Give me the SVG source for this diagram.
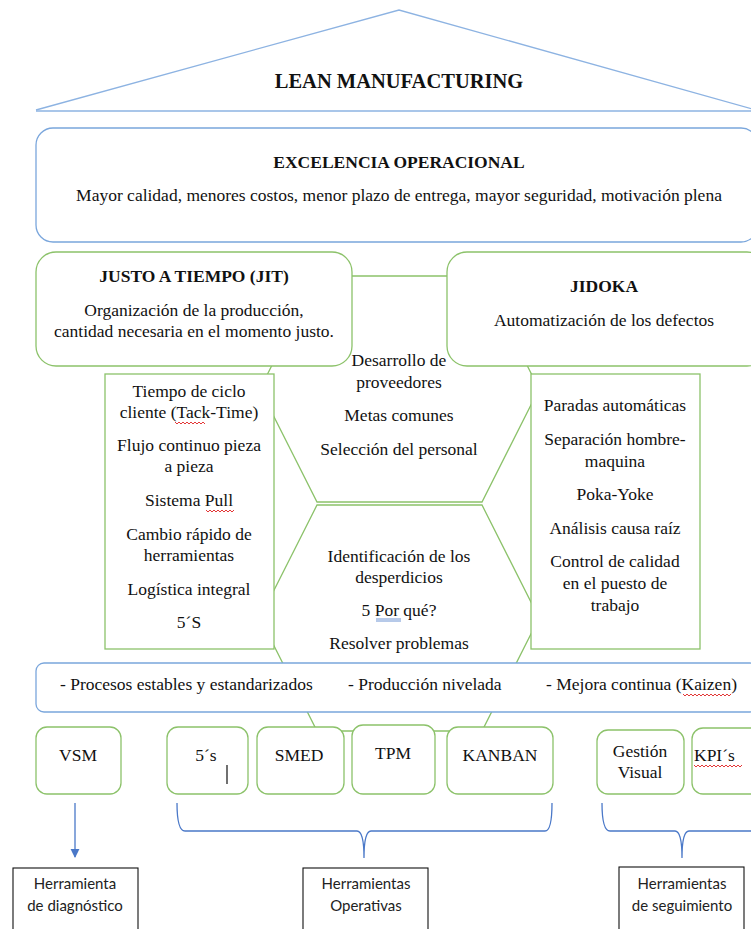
<svg xmlns="http://www.w3.org/2000/svg" width="751" height="929" viewBox="0 0 751 929">
  <style>
    text { font-family: 'Liberation Serif', 'Times New Roman', serif; }
    .t { font-size: 17.5px; fill: #111; text-anchor: middle; }
    .st { text-anchor: start; }
    .b { font-weight: bold; }
    .s { font-family: Lato, 'Open Sans', sans-serif; font-size: 15px; fill: #222; text-anchor: middle; }
    .roof { fill: none; stroke: #8db3e2; stroke-width: 1.3; }
    .bluebox { fill: #fff; stroke: #7aa6dc; stroke-width: 1.3; }
    .green { fill: #fff; stroke: #8cc26a; stroke-width: 1.3; }
    .brace { fill: none; stroke: #4a78c8; stroke-width: 1.3; }
    .label { fill: #fff; stroke: #111; stroke-width: 1.1; }
    .wavy { fill: none; stroke: #e02020; stroke-width: 0.9; }
  </style>
  <defs>
    <marker id="arrow" viewBox="0 0 10 10" refX="9" refY="5" markerWidth="7" markerHeight="7" orient="auto">
      <path d="M0,0 L10,5 L0,10 z" fill="#4a78c8"/>
    </marker>
  </defs>

  <!-- roof -->
  <g id="roof">
    <polyline class="roof" points="36,110 399,10 756,110"/>
    <line class="roof" x1="36" y1="111" x2="751" y2="111"/>
    <text class="t b" x="399" y="88" style="font-size:20.5px">LEAN MANUFACTURING</text>
  </g>

  <!-- operational excellence -->
  <g id="excelencia">
    <rect class="bluebox" x="36" y="128" width="722" height="114" rx="17"/>
    <text class="t b" x="399" y="168">EXCELENCIA OPERACIONAL</text>
    <text class="t" x="399" y="201">Mayor calidad, menores costos, menor plazo de entrega, mayor seguridad, motivación plena</text>
  </g>

  <!-- central hexagons -->
  <g id="hex-top">
    <polygon class="green" points="317,276 482,276 539,389 482,502 317,502 260,389"/>
  </g>
  <g id="hex-bottom">
    <polygon class="green" points="317,505 482,505 539,618 482,731 317,731 260,618"/>
    <text class="t" x="399" y="562">Identificación de los</text>
    <text class="t" x="399" y="583">desperdicios</text>
    <text class="t" x="399" y="616">5 Por qué?</text>
    <line x1="376" y1="619" x2="401" y2="619" stroke="#4a78c8" stroke-width="0.8"/>
    <line x1="376" y1="621" x2="401" y2="621" stroke="#4a78c8" stroke-width="0.8"/>
    <text class="t" x="399" y="649">Resolver problemas</text>
  </g>

  <!-- pillars -->
  <g id="jit">
    <rect class="green" x="36" y="252" width="316" height="114" rx="20"/>
    <text class="t b" x="194" y="282">JUSTO A TIEMPO (JIT)</text>
    <text class="t" x="194" y="316">Organización de la producción,</text>
    <text class="t" x="194" y="337">cantidad necesaria en el momento justo.</text>
  </g>
  <g id="jidoka">
    <rect class="green" x="447" y="252" width="320" height="114" rx="20"/>
    <text class="t b" x="604" y="292">JIDOKA</text>
    <text class="t" x="604" y="326">Automatización de los defectos</text>
  </g>

  <g id="hex-top-text">
    <text class="t" x="399" y="366">Desarrollo de</text>
    <text class="t" x="399" y="388">proveedores</text>
    <text class="t" x="399" y="421">Metas comunes</text>
    <text class="t" x="399" y="455">Selección del personal</text>
  </g>

  <g id="jit-list">
    <rect class="green" x="105" y="374" width="169" height="275"/>
    <text class="t" x="189" y="397">Tiempo de ciclo</text>
    <text class="t" x="189" y="418">cliente (Tack-Time)</text>
    <path class="wavy" d="M175,422 l2,2 l2,-2 l2,2 l2,-2 l2,2 l2,-2 l2,2 l2,-2 l2,2 l2,-2 l2,2 l2,-2 l2,2 l2,-2 l2,2"/>
    <text class="t" x="189" y="451">Flujo continuo pieza</text>
    <text class="t" x="189" y="472">a pieza</text>
    <text class="t" x="189" y="506">Sistema Pull</text>
    <path class="wavy" d="M206,510 l2,2 l2,-2 l2,2 l2,-2 l2,2 l2,-2 l2,2 l2,-2 l2,2 l2,-2 l2,2 l2,-2 l2,2 l2,-2"/>
    <text class="t" x="189" y="540">Cambio rápido de</text>
    <text class="t" x="189" y="561">herramientas</text>
    <text class="t" x="189" y="595">Logística integral</text>
    <text class="t" x="189" y="628">5´S</text>
  </g>

  <g id="jidoka-list">
    <rect class="green" x="531" y="374" width="169" height="275"/>
    <text class="t" x="615" y="411">Paradas automáticas</text>
    <text class="t" x="615" y="445">Separación hombre-</text>
    <text class="t" x="615" y="467">maquina</text>
    <text class="t" x="615" y="500">Poka-Yoke</text>
    <text class="t" x="615" y="534">Análisis causa raíz</text>
    <text class="t" x="615" y="567">Control de calidad</text>
    <text class="t" x="615" y="589">en el puesto de</text>
    <text class="t" x="615" y="611">trabajo</text>
  </g>

  <!-- foundation -->
  <g id="base">
    <rect class="bluebox" x="36" y="663" width="722" height="49" rx="8"/>
    <text class="t st" x="60" y="690">- Procesos estables y estandarizados</text>
    <text class="t st" x="348" y="690">- Producción nivelada</text>
    <text class="t st" x="546" y="690">- Mejora continua (Kaizen)</text>
    <path class="wavy" d="M683,694 l2,2 l2,-2 l2,2 l2,-2 l2,2 l2,-2 l2,2 l2,-2 l2,2 l2,-2 l2,2 l2,-2 l2,2 l2,-2 l2,2 l2,-2 l2,2 l2,-2 l2,2 l2,-2 l2,2 l2,-2 l2,2 l2,-2"/>
  </g>

  <!-- tools -->
  <g id="vsm">
    <rect class="green" x="36" y="727" width="85" height="67" rx="11"/>
    <text class="t" x="78" y="761">VSM</text>
  </g>
  <g id="cinco-s">
    <rect class="green" x="167" y="727" width="81" height="67" rx="11"/>
    <text class="t" x="206" y="761">5´s</text>
    <line x1="227" y1="765" x2="227" y2="784" stroke="#111" stroke-width="1.2"/>
  </g>
  <g id="smed">
    <rect class="green" x="257" y="727" width="87" height="67" rx="11"/>
    <text class="t" x="299" y="761">SMED</text>
  </g>
  <g id="tpm">
    <rect class="green" x="352" y="725" width="83" height="69" rx="11"/>
    <text class="t" x="393" y="759">TPM</text>
  </g>
  <g id="kanban">
    <rect class="green" x="447" y="727" width="106" height="67" rx="11"/>
    <text class="t" x="500" y="761">KANBAN</text>
  </g>
  <g id="gestion-visual">
    <rect class="green" x="597" y="730" width="87" height="64" rx="11"/>
    <text class="t" x="640" y="757">Gestión</text>
    <text class="t" x="640" y="778">Visual</text>
  </g>
  <g id="kpis">
    <rect class="green" x="692" y="728" width="80" height="66" rx="11"/>
    <text class="t st" x="694" y="761">KPI´s</text>
    <path class="wavy" d="M694,765 l2,2 l2,-2 l2,2 l2,-2 l2,2 l2,-2 l2,2 l2,-2 l2,2 l2,-2 l2,2 l2,-2 l2,2 l2,-2 l2,2 l2,-2 l2,2 l2,-2 l2,2 l2,-2 l2,2 l2,-2 l2,2 l2,-2"/>
  </g>

  <!-- connectors -->
  <g id="connectors">
    <line class="brace" x1="75" y1="803" x2="75" y2="857" marker-end="url(#arrow)"/>
    <path class="brace" d="M177,803 Q177,831 185,831 L357,831 Q364,831 364,858 Q364,831 371,831 L545,831 Q552,831 552,803"/>
    <path class="brace" d="M602,803 Q602,831 610,831 L675,831 Q682,831 682,858 Q682,831 689,831 L760,831"/>
  </g>

  <!-- tool categories -->
  <g id="diagnostico">
    <rect class="label" x="13" y="868" width="125" height="70"/>
    <text class="s" x="75" y="889">Herramienta</text>
    <text class="s" x="75" y="911">de diagnóstico</text>
  </g>
  <g id="operativas">
    <rect class="label" x="303" y="868" width="125" height="70"/>
    <text class="s" x="366" y="889">Herramientas</text>
    <text class="s" x="366" y="911">Operativas</text>
  </g>
  <g id="seguimiento">
    <rect class="label" x="619" y="867" width="125" height="70"/>
    <text class="s" x="682" y="889">Herramientas</text>
    <text class="s" x="682" y="911">de seguimiento</text>
  </g>
</svg>
